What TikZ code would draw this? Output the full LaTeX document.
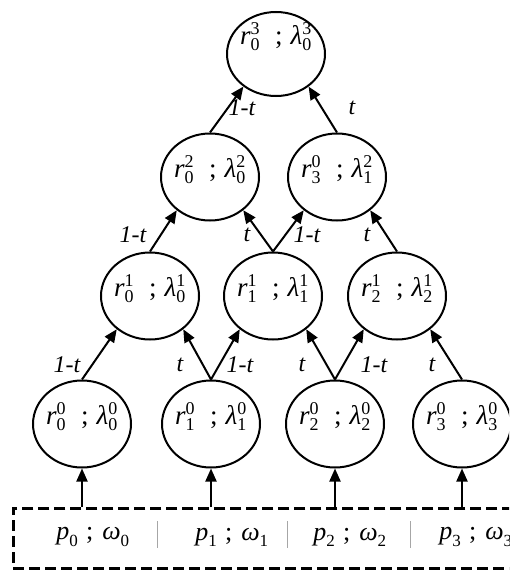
\documentclass[tikz,border=0pt]{standalone}
\usepackage{fontspec}
\setmainfont{Liberation Serif}
\usetikzlibrary{shapes.geometric,arrows.meta}

% sub/superscript pair set in upright text digits (#1 = size in pt)
\newcommand\ix[3]{$_{\mbox{\upshape\fontsize{#1}{#1}\selectfont #2}}^{\mbox{\upshape\fontsize{#1}{#1}\selectfont #3}}$}
% node label r^b_a ; lambda^d_c, zero width so it never widens the ellipse
\newcommand\rl[4]{\makebox[0pt][c]{\itshape r\ix{18}{#1}{#2}\hspace{0.55em}\upshape;\hspace{0.3em}\itshape λ\ix{18}{#3}{#4}}}
% input cell p_a ; omega_a
\newcommand\pw[1]{\itshape p\ix{17}{#1}{}\hspace{0.3em}\upshape;\hspace{0.35em}\itshape ω\ix{17}{#1}{}}

\tikzset{
  st/.style={ellipse, draw, line width=2pt, minimum width=98pt, minimum height=87pt,
    inner sep=0pt, text height=0pt, text depth=0pt, font=\fontsize{27}{27}\selectfont},
  arr/.style={line width=2pt, -{Triangle[length=13pt,width=11pt]}},
  lab/.style={font=\itshape\fontsize{24}{24}\selectfont, inner sep=0pt},
  cell/.style={font=\fontsize{26}{26}\selectfont, inner sep=0pt},
  divider/.style={line width=0.8pt, draw=black!35},
  inbox/.style={draw, line width=2.6pt, dash pattern=on 11pt off 5pt, anchor=north west,
    minimum width=540pt, minimum height=60pt, inner sep=0pt},
}

\begin{document}
\begin{tikzpicture}[x=1pt, y=-1pt]
\useasboundingbox (0,0) rectangle (509,570);
\clip (0,0) rectangle (509,570);

% level 3
\node[st, minimum height=84pt, text depth=20pt] (r03) at (276,54) {\rl{0}{3}{0}{3}};
% level 2
\node[st] (r02) at (210,177) {\rl{0}{2}{0}{2}};
\node[st] (r32) at (337,177) {\rl{3}{0}{1}{2}};
% level 1
\node[st] (r01) at (150,296) {\rl{0}{1}{0}{1}};
\node[st] (r11) at (273,296) {\rl{1}{1}{1}{1}};
\node[st] (r21) at (397,296) {\rl{2}{1}{2}{1}};
% level 0
\node[st] (r00) at (82,424) {\rl{0}{0}{0}{0}};
\node[st] (r10) at (211,424) {\rl{1}{0}{1}{0}};
\node[st] (r20) at (335,424) {\rl{2}{0}{2}{0}};
\node[st] (r30) at (462,424) {\rl{3}{0}{3}{0}};

% level 0 -> level 1
\draw[arr] (r00.north) -- (r01.-135); \node[lab] at (67,365) {1-t};
\draw[arr] (r10.north) -- (r01.-45);  \node[lab] at (180,365) {t};
\draw[arr] (r10.north) -- (r11.-135); \node[lab] at (240,365) {1-t};
\draw[arr] (r20.north) -- (r11.-45);  \node[lab] at (302,365) {t};
\draw[arr] (r20.north) -- (r21.-135); \node[lab] at (374,365) {1-t};
\draw[arr] (r30.north) -- (r21.-45);  \node[lab] at (432,365) {t};

% level 1 -> level 2
\draw[arr] (r01.north) -- (r02.-135); \node[lab] at (133,235) {1-t};
\draw[arr] (r11.north) -- (r02.-45);  \node[lab] at (247,235) {t};
\draw[arr] (r11.north) -- (r32.-135); \node[lab] at (307,235) {1-t};
\draw[arr] (r21.north) -- (r32.-45);  \node[lab] at (367,235) {t};

% level 2 -> level 3
\draw[arr] (r02.north) -- (r03.-135); \node[lab] at (242,108) {1-t};
\draw[arr] (r32.north) -- (r03.-45);  \node[lab] at (352,108) {t};

% input row
\node[inbox] (pin) at (12,507) {};
\draw[divider] (157,521) -- (157,548);
\draw[divider] (287,521) -- (287,548);
\draw[divider] (410,521) -- (410,548);
\node[cell] (p0) at (93,537) {\pw{0}};
\node[cell] (p1) at (232,537) {\pw{1}};
\node[cell] (p2) at (350,537) {\pw{2}};
\node[cell] (p3) at (476,537) {\pw{3}};

\draw[arr] (r00.south |- pin.north) -- (r00.south);
\draw[arr] (r10.south |- pin.north) -- (r10.south);
\draw[arr] (r20.south |- pin.north) -- (r20.south);
\draw[arr] (r30.south |- pin.north) -- (r30.south);
\end{tikzpicture}
\end{document}
